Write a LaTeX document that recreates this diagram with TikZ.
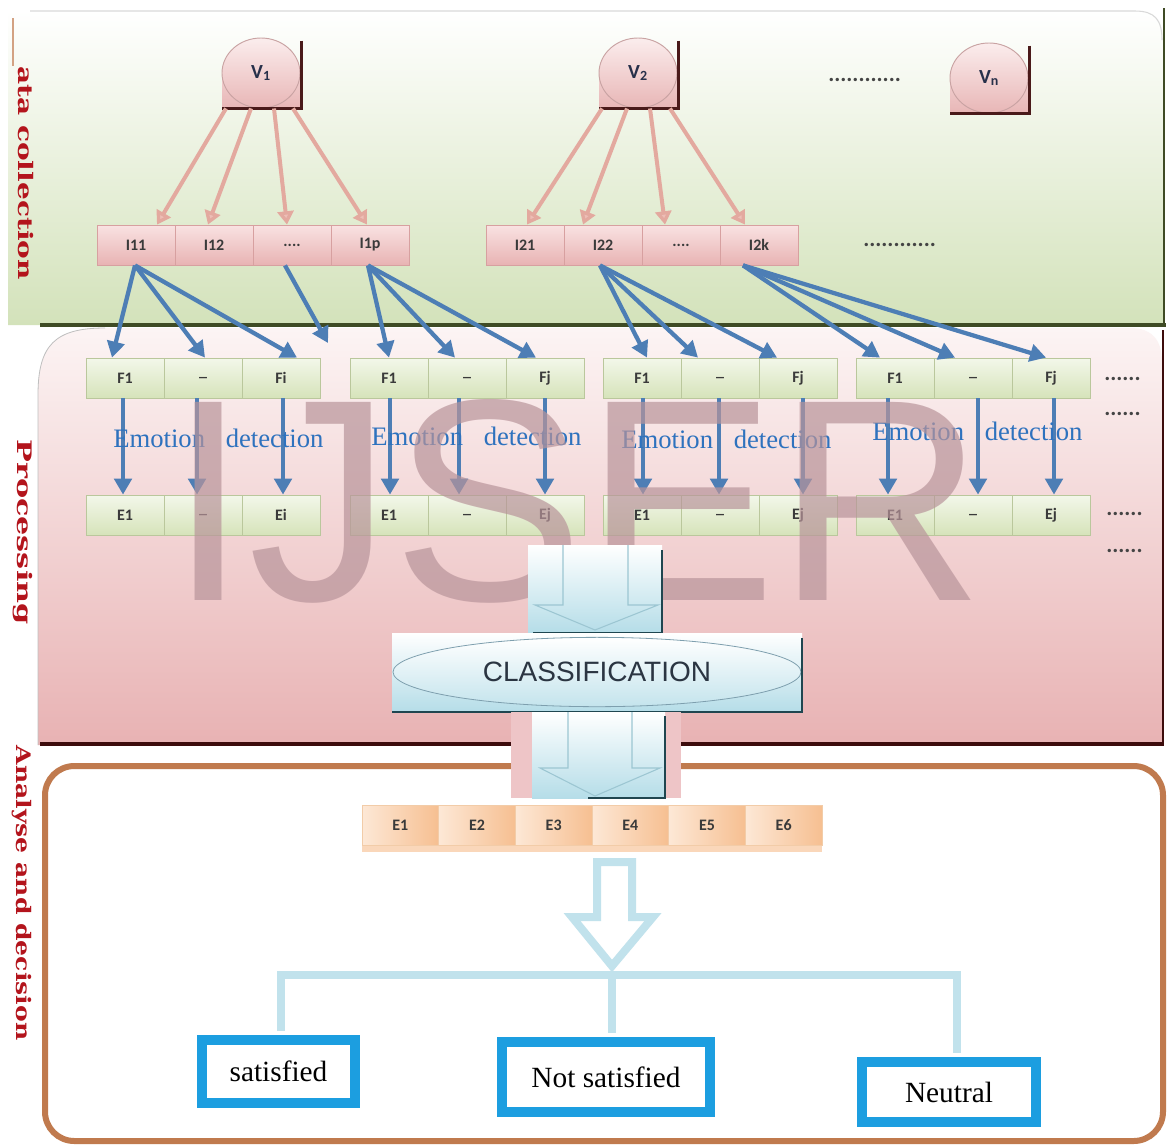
\documentclass[tikz,border=0pt]{standalone}
\usepackage{fontspec}
\usepackage{graphicx}
\setmainfont{Liberation Serif}
\newfontfamily\carlito{Carlito}
\newfontfamily\lsans{Liberation Sans}
\newfontfamily\lblfont{DejaVu Serif}
\usetikzlibrary{arrows.meta,calc,shapes.geometric}
\definecolor{greenbot}{HTML}{D3E2BA}
\definecolor{greenmid}{HTML}{EDF3E1}
\definecolor{greenline}{HTML}{3F4B25}
\definecolor{pinktop}{HTML}{FCF4F4}
\definecolor{pinkmid}{HTML}{F2D0D0}
\definecolor{pinkbot}{HTML}{E8B2B3}
\definecolor{maroon}{HTML}{3D0C0C}
\definecolor{brownb}{HTML}{C07A4E}
\definecolor{lblred}{HTML}{B3141C}
\definecolor{vtop}{HTML}{FBEDED}
\definecolor{vbot}{HTML}{E8B6B6}
\definecolor{vedge}{HTML}{C9A3A3}
\definecolor{itop}{HTML}{F9E2E2}
\definecolor{ibot}{HTML}{E8B3B3}
\definecolor{iedge}{HTML}{D7A0A0}
\definecolor{ftop}{HTML}{F3F7EA}
\definecolor{fbot}{HTML}{D6E3BA}
\definecolor{fedge}{HTML}{BAC79C}
\definecolor{boxtxt}{HTML}{3A3A3A}
\definecolor{vtxt}{HTML}{27304A}
\definecolor{pinkarrow}{HTML}{E3A99F}
\definecolor{pinkhead}{HTML}{EDBEB6}
\definecolor{bluearrow}{HTML}{4D7EB5}
\definecolor{emo}{HTML}{2E72BE}
\definecolor{wm}{HTML}{B8949A}
\definecolor{clsbot}{HTML}{B5DDE8}
\definecolor{clsedge}{HTML}{7E9FAE}
\definecolor{clstxt}{HTML}{2B3542}
\definecolor{darkteal}{HTML}{1F4650}
\definecolor{arrline}{HTML}{9CC6D2}
\definecolor{lowpink}{HTML}{EEC5C7}
\definecolor{peachL}{HTML}{FDE8D6}
\definecolor{peachR}{HTML}{F6BF91}
\definecolor{peachedge}{HTML}{F2CCA8}
\definecolor{treeblue}{HTML}{C1E2EC}
\definecolor{decblue}{HTML}{1C9EE0}
\definecolor{dotc}{HTML}{444444}
\definecolor{bracketc}{HTML}{4A1A1A}
\begin{document}
\begin{tikzpicture}[x=0.75pt,y=-0.75pt,
  ibox/.style={draw=iedge, line width=0.6pt, top color=itop, bottom color=ibot,
    minimum width=58.5pt, minimum height=30pt, inner sep=0pt,
    font=\carlito\bfseries\fontsize{12}{14}\selectfont, text=boxtxt},
  fbox/.style={draw=fedge, line width=0.6pt, top color=ftop, bottom color=fbot,
    minimum width=58.5pt, minimum height=30pt, inner sep=0pt,
    font=\carlito\bfseries\fontsize{12}{14}\selectfont, text=boxtxt},
  pbox/.style={draw=peachedge, line width=0.6pt, left color=peachL, right color=peachR,
    minimum width=57.5pt, minimum height=30pt, inner sep=0pt,
    font=\carlito\bfseries\fontsize{12}{14}\selectfont, text=boxtxt},
  vnode/.style={ellipse, draw=vedge, line width=0.7pt, top color=vtop, bottom color=vbot,
    minimum width=58.5pt, minimum height=52.5pt, inner sep=0pt,
    font=\carlito\bfseries\fontsize{15}{15}\selectfont, text=vtxt},
  bracket/.style={draw=bracketc, line width=2.2pt},
  varr/.style={draw=pinkarrow, line width=3pt, -{Triangle[length=10pt,width=12pt,fill=pinkhead]}},
  barr/.style={draw=bluearrow, line width=3.2pt, -{Triangle[length=12pt,width=13pt]}},
  emot/.style={anchor=base west, inner sep=0pt, text=emo, font=\fontsize{20}{22}\selectfont},
  dots/.style={anchor=base west, inner sep=0pt, text=dotc, font=\carlito\bfseries\fontsize{17}{17}\selectfont},
  lbl/.style={rotate=-90, inner sep=0pt, text=lblred, font=\lblfont\bfseries\fontsize{15}{15}\selectfont},
  decbox/.style={draw=decblue, line width=7.5pt, fill=white, inner sep=0pt, font=\fontsize{22}{24}\selectfont},
  tree/.style={draw=treeblue, line width=6pt},
]
\useasboundingbox (0,0) rectangle (1167,1147);
\fill[white] (0,0) rectangle (1167,1147);

% ---------- Data collection panel ----------
\shade[top color=white, middle color=greenmid, bottom color=greenbot]
  (8,10) -- (1135,10) .. controls (1155,10) and (1163,20) .. (1163,40) -- (1163,325) -- (8,325) -- cycle;
\draw[black!15, line width=0.8pt] (30,11) -- (1135,11) .. controls (1155,11) and (1162,20) .. (1162,40);
\draw[greenline, line width=2.2pt] (1164,8) -- (1164,327);
\draw[greenline, line width=3.5pt] (40,325) -- (1166,325);
\draw[brownb!70, line width=1pt] (13,18) -- (13,66);
\node[lbl] (lab1) at (26,173) {\resizebox{160pt}{\height}{ata collection}};

% ---------- Processing panel ----------
\shade[top color=pinktop, middle color=pinkmid, bottom color=pinkbot]
  (38,745) -- (38,395) .. controls (38,345) and (55,328) .. (105,328) -- (1130,328)
  .. controls (1152,328) and (1162,340) .. (1162,362) -- (1162,745) -- cycle;
\draw[black!25, line width=0.6pt] (38,745) -- (38,395) .. controls (38,345) and (55,328) .. (105,328);
\draw[maroon, line width=2pt] (1163,330) -- (1163,746);
\draw[maroon, line width=3.5pt] (40,744) -- (1162,744);
\node[lbl] (lab2) at (23,532) {\resizebox{139pt}{\height}{Processing}};

% ---------- Analyse panel ----------
\draw[brownb, line width=4.5pt, rounded corners=22pt, fill=white] (45,766) rectangle (1163,1141);
\node[lbl] (lab3) at (22,893) {\resizebox{221pt}{\height}{Analyse and decision}};

% ---------- V nodes ----------
\shade[top color=vtop!50!vbot, bottom color=vbot] (222,73) rectangle (300,108);
\node[vnode] (V1) at (261,73) {V\textsubscript{1}};
\shade[top color=vtop!50!vbot, bottom color=vbot] (599,73) rectangle (677,108);
\node[vnode] (V2) at (638,73) {V\textsubscript{2}};
\shade[top color=vtop!50!vbot, bottom color=vbot] (950,78) rectangle (1028,113);
\node[vnode] (Vn) at (989,78) {V\textsubscript{n}};
\foreach \v in {V1,V2,Vn}
  \draw[bracket] ($(\v.east|-\v.north)+(1,3)$) -- ($(\v.east|-\v.south)+(1,0)$) -- (\v.west|-\v.south);

\node[dots] (d1) at (828,81) {............};
\node[dots] (d2) at (863,246) {............};

% ---------- I boxes ----------
\node[ibox] (I11) at (136,245) {I11};
\node[ibox] (I12) at (214,245) {I12};
\node[ibox] (I13) at (292,245) {....};
\node[ibox] (I14) at (370,245) {I1p};
\node[ibox] (I21) at (525,245) {I21};
\node[ibox] (I22) at (603,245) {I22};
\node[ibox] (I23) at (681,245) {....};
\node[ibox] (I24) at (759,245) {I2k};

% V -> I arrows
\foreach \s/\sx/\t/\tx in {V1/-35/I11/21, V1/-10/I12/-6, V1/13/I13/-5, V1/32/I14/-3,
                           V2/-36/I21/2, V2/-11/I22/-20, V2/12/I23/-16, V2/32/I24/-14}
  \draw[varr] ($(\s.south)+(\sx,0)$) -- ($(\t.north)+(\tx,0)$);

% ---------- F and E rows ----------
\foreach \g/\xa/\last in {1/125/i, 2/389/j, 3/642/j, 4/895/j} {
  \node[fbox] (F\g1) at (\xa,378) {F1};
  \node[fbox] (F\g2) at (\xa+78,378) {\_};
  \node[fbox] (F\g3) at (\xa+156,378) {F\last};
  \node[fbox] (E\g1) at (\xa,515) {E1};
  \node[fbox] (E\g2) at (\xa+78,515) {\_};
  \node[fbox] (E\g3) at (\xa+156,515) {E\last};
}
\node[dots] (d3) at (1104,380) {......};
\node[dots] (d4) at (1104,415) {......};
\node[dots] (d5) at (1106,515) {......};
\node[dots] (d6) at (1106,552) {......};

% I -> F arrows
\foreach \s/\sx/\t/\tx in {I11/-1/F11/-13, I11/-1/F12/2, I11/-1/F13/16,
    I14/-2/F21/0, I14/-2/F22/-12, I14/-2/F23/-9,
    I22/-3/F31/5, I22/-3/F32/-22, I22/-3/F33/-21,
    I24/-16/F41/-15, I24/-16/F42/-18, I24/-16/F43/-5}
  \draw[barr] ($(\s.south)+(\sx,0)$) -- ($(\t.north)+(\tx,0)$);
\coordinate (gap) at (328,343);
\draw[barr] ($(I13.south)+(-7,0)$) -- (gap);

% F -> E arrows
\foreach \n/\dx in {11/-2,12/-6,13/2,21/1,22/-8,23/0,31/1,32/-1,33/5,41/-7,42/5,43/3}
  \draw[barr] ($(F\n.south)+(\dx,0)$) -- ($(E\n.north)+(\dx,0)$);

% Emotion detection labels
\node[emot] (em1) at (113,447) {Emotion\hspace{15.5pt}detection};
\node[emot] (em2) at (371,445) {Emotion\hspace{15.5pt}detection};
\node[emot] (em3) at (621,448) {Emotion\hspace{15.5pt}detection};
\node[emot] (em4) at (872,440) {Emotion\hspace{15.5pt}detection};

% ---------- watermark ----------
\node[anchor=base west, inner sep=0pt, text=wm, text opacity=0.7,
  font=\lsans\fontsize{216}{216}\selectfont] (wmk) at (168,600) {IJSER};

% ---------- Classification ----------
\shade[top color=white, bottom color=clsbot] (528,545) rectangle (662,633);
\draw[arrline, line width=0.8pt] (563,545) -- (563,605) -- (535,605) -- (595,630) -- (658,605) -- (628,605) -- (628,545);
\draw[darkteal, line width=2.2pt] (662,550) -- (662,633) -- (533,633);

\shade[top color=white, bottom color=clsbot] (392,633) rectangle (802,712);
\node[ellipse, draw=clsedge, line width=0.6pt, top color=white, bottom color=clsbot!80,
  minimum width=306pt, minimum height=52pt, inner sep=0pt,
  font=\lsans\fontsize{21}{21}\selectfont, text=clstxt] (cls) at (597,672) {CLASSIFICATION};
\draw[darkteal, line width=2.2pt] (802,638) -- (802,712) -- (392,712);

% lower arrow
\fill[lowpink] (511,712) rectangle (681,798);
\shade[top color=white, bottom color=clsbot] (532,712) rectangle (665,798);
\draw[arrline, line width=0.8pt] (568,712) -- (568,768) -- (540,768) -- (595,796) -- (660,768) -- (632,768) -- (632,712);
\draw[darkteal, line width=2.2pt] (665,716) -- (665,798) -- (588,798);

% ---------- E1..E6 ----------
\fill[peachL!60!peachR] (362,845) rectangle (822,852);
\foreach \k in {1,...,6}
  \node[pbox] (R\k) at (362+76.67*\k-38.33,825) {E\k};

% hollow arrow
\draw[treeblue, line width=6pt, line join=miter]
  (597,862) -- (597,917) -- (572,917) -- (612,966) -- (653,917) -- (632,917) -- (632,862) -- cycle;
\coordinate (hub) at (612,975);

% ---------- decision boxes ----------
\node[decbox, minimum width=114.75pt, minimum height=47.25pt] (sat) at (278.5,1071.5) {satisfied};
\node[decbox, minimum width=156pt, minimum height=52.5pt] (nsat) at (606,1077) {Not satisfied};
\node[decbox, minimum width=130.5pt, minimum height=45pt] (neu) at (949,1092) {Neutral};

\draw[tree] ($(sat.north)+(2,-4)$) |- (hub) -| ($(neu.north)+(8,-4)$);
\draw[tree] (hub) -- ($(hub|-nsat.north)+(0,-4)$);
\end{tikzpicture}
\end{document}
